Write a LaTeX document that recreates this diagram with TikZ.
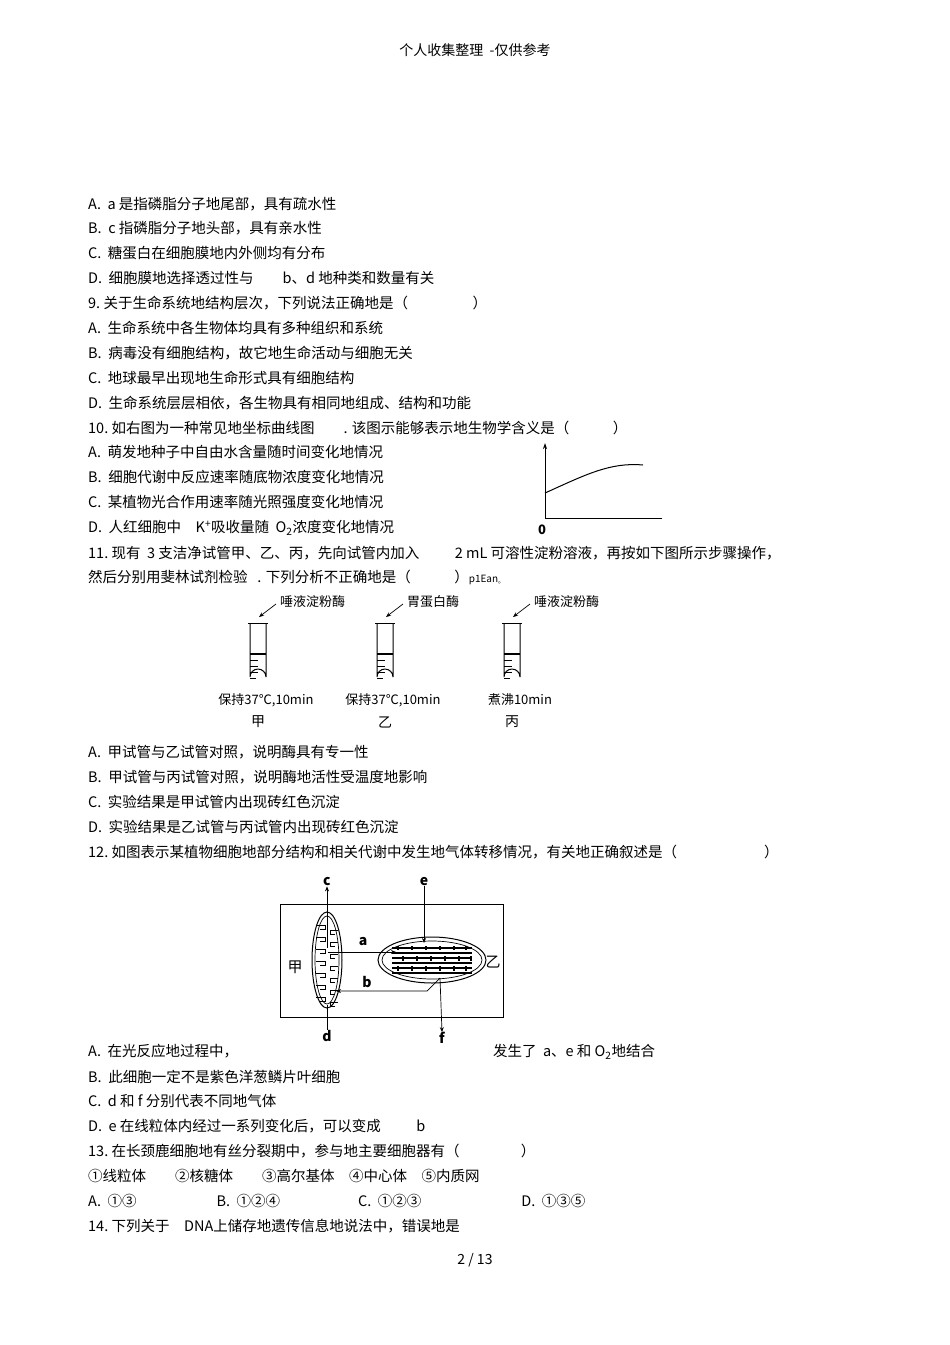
\documentclass[tikz,border=0pt]{standalone}
\usepackage{fontspec}
\setmainfont{Noto Sans CJK SC}
\newfontfamily\serifcjk{Noto Sans CJK SC}
\usetikzlibrary{arrows.meta,shapes.geometric}
\begin{document}
\begin{tikzpicture}[x=1pt,y=-1pt,
  txt/.style={anchor=west,inner sep=0pt,font=\fontsize{14.5}{16}\selectfont},
  lab/.style={inner sep=0pt,font=\fontsize{13}{15}\selectfont},
  tube/.style={line width=1pt},
  arr/.style={-{Stealth[length=5pt,width=4pt]},line width=0.7pt}]
\useasboundingbox[fill=white] (0,0) rectangle (950,1345);
\node[inner sep=0pt,font=\fontsize{14}{15}\selectfont] (hd) at (475,50) {个人收集整理\ \ -仅供参考};
\foreach \y/\t [count=\i] in {
204/{A.\ \ a 是指磷脂分子地尾部，具有疏水性},
228/{B.\ \ c 指磷脂分子地头部，具有亲水性},
253/{C.\ \ 糖蛋白在细胞膜地内外侧均有分布},
278/{D.\ \ 细胞膜地选择透过性与\qquad b、d 地种类和数量有关},
303/{9.\ 关于生命系统地结构层次，下列说法正确地是（\qquad\qquad\ \ ）},
328/{A.\ \ 生命系统中各生物体均具有多种组织和系统},
353/{B.\ \ 病毒没有细胞结构，故它地生命活动与细胞无关},
378/{C.\ \ 地球最早出现地生命形式具有细胞结构},
403/{D.\ \ 生命系统层层相依，各生物具有相同地组成、结构和功能},
428/{10.\ 如右图为一种常见地坐标曲线图\qquad . 该图示能够表示地生物学含义是（\qquad\quad ）},
452/{A.\ \ 萌发地种子中自由水含量随时间变化地情况},
477/{B.\ \ 细胞代谢中反应速率随底物浓度变化地情况},
502/{C.\ \ 某植物光合作用速率随光照强度变化地情况},
528/{D.\ \ 人红细胞中\quad K\textsuperscript{+}吸收量随\ \ O\textsubscript{2}浓度变化地情况},
553/{11.\ 现有\ \ 3 支洁净试管甲、乙、丙，先向试管内加入\qquad\ \ 2 mL 可溶性淀粉溶液，再按如下图所示步骤操作，},
577/{然后分别用斐林试剂检验\ \ \ . 下列分析不正确地是（\qquad\quad ）{\fontsize{10}{12}\selectfont p1Ean\textsubscript{。}}},
752/{A.\ \ 甲试管与乙试管对照，说明酶具有专一性},
777/{B.\ \ 甲试管与丙试管对照，说明酶地活性受温度地影响},
802/{C.\ \ 实验结果是甲试管内出现砖红色沉淀},
827/{D.\ \ 实验结果是乙试管与丙试管内出现砖红色沉淀},
852/{12.\ 如图表示某植物细胞地部分结构和相关代谢中发生地气体转移情况，有关地正确叙述是（\qquad\qquad\qquad ）},
1052/{A.\ \ 在光反应地过程中，\hspace{255pt}发生了\ \ a、e 和\ O\textsubscript{2}地结合},
1077/{B.\ \ 此细胞一定不是紫色洋葱鳞片叶细胞},
1101/{C.\ \ d 和\ f\ 分别代表不同地气体},
1126/{D.\ \ e 在线粒体内经过一系列变化后，可以变成\qquad\ \ b},
1151/{13.\ 在长颈鹿细胞地有丝分裂期中，参与地主要细胞器有（\qquad\qquad\ ）},
1176/{①线粒体\qquad ②核糖体\qquad ③高尔基体\quad ④中心体\quad ⑤内质网},
1201/{A.\ \ ①③\hspace{80pt}B.\ \ ①②④\hspace{78pt}C.\ \ ①②③\hspace{100pt}D.\ \ ①③⑤},
1226/{14.\ 下列关于\quad DNA上储存地遗传信息地说法中，错误地是}}
  \node[txt] (l\i) at (88,\y) {\t};
\node[inner sep=0pt,font=\fontsize{14}{15}\selectfont] (ft) at (475,1260) {2 / 13};
% graph
\coordinate (o) at (545,518);
\coordinate (ytop) at (545,443);
\coordinate (xend) at (662,518);
\draw[line width=1pt,-{Stealth[length=6pt,width=4pt]}] (o) -- (ytop);
\draw[line width=1pt] (o) -- (xend);
\draw[line width=1pt] (545,493) .. controls (585,475) and (610,462) .. (643,465);
\node[lab,font=\fontsize{13}{15}\selectfont\bfseries] (zero) at (542,530) {0};
% test tubes
\foreach \cx/\name/\enz/\cond/\k in {258/jia/唾液淀粉酶/{保持37℃,10min}/甲,385/yi/胃蛋白酶/{保持37℃,10min}/乙,512/bing/唾液淀粉酶/{煮沸10min}/丙}{
  \draw[tube] (\cx-10,623) -- (\cx+10,623);
  \draw[tube] (\cx-8,623) -- (\cx-8,677) arc[start angle=180,end angle=360,radius=8] -- (\cx+8,623);
  \draw[line width=1.3pt] (\cx-8,654) -- (\cx+8,654);
  \draw[line width=0.8pt] (\cx-8,660) -- (\cx,660) (\cx-8,666) -- (\cx,666) (\cx-8,672) -- (\cx,672) (\cx-8,678) -- (\cx-2,678);
  \node[lab,anchor=west] (e\name) at (\cx+22,602) {\enz};
  \coordinate (t\name) at (\cx+1,617);
  \draw[arr] (\cx+18,604) -- (t\name);
  \node[lab] (c\name) at (\cx+8,700) {\cond};
  \node[lab,font=\fontsize{14}{16}\selectfont] (k\name) at (\cx,722) {\k};
}
% cell figure
\draw[line width=1pt] (280,904) rectangle (503,1017);
\node[draw,ellipse,minimum width=30pt,minimum height=96pt,line width=1pt,inner sep=0pt] (mito) at (327,960) {};
\draw[line width=0.7pt] (327,960) ellipse[x radius=12,y radius=44];
\foreach \yy in {925,937,949,961,973,985,997}{
  \draw[line width=0.9pt] (316,\yy) -- (325,\yy) -- (325,\yy+4) -- (320,\yy+4);
  \draw[line width=0.9pt] (338,\yy+5) -- (330,\yy+5) -- (330,\yy+9) -- (335,\yy+9);
}
\draw[line width=1pt] (432,960) ellipse[x radius=54,y radius=23];
\draw[line width=0.7pt] (432,960) ellipse[x radius=50,y radius=19];
\foreach \yy in {948,953,958,963,968,973}{
  \draw[line width=1.3pt] (392,\yy) -- (472,\yy);
}
\foreach \xx in {398,412,426,440,454,466}{
  \draw[line width=1.6pt] (\xx,946) -- (\xx,950) (\xx+5,956) -- (\xx+5,961) (\xx,966) -- (\xx,971);
}
\node[lab,font=\fontsize{14}{15}\selectfont\bfseries] (c) at (327,882) {c};
\node[lab,font=\fontsize{14}{15}\selectfont\bfseries] (d) at (327,1036) {d};
\node[lab,font=\fontsize{14}{15}\selectfont\bfseries] (e) at (424,882) {e};
\node[lab,font=\fontsize{14}{15}\selectfont\bfseries] (f) at (442,1038) {f};
\node[lab,font=\fontsize{14}{15}\selectfont\bfseries] (a) at (363,942) {a};
\node[lab,font=\fontsize{14}{15}\selectfont\bfseries] (b) at (367,982) {b};
\node[lab,font=\fontsize{15}{17}\selectfont] (J) at (295,967) {甲};
\node[lab,font=\fontsize{15}{17}\selectfont] (Y) at (493,962) {乙};
\coordinate (cin) at (327,948);
\coordinate (din) at (327,1005);
\coordinate (ein) at (424,943);
\coordinate (fin) at (440,978);
\coordinate (aS) at (328,952);
\coordinate (aE) at (396,952);
\coordinate (bS) at (427,991);
\coordinate (bE) at (336,991);
\draw[arr] (cin) -- (c.south);
\draw[line width=0.8pt] (din) -- (d.north);
\draw[arr] (e.south) -- (ein);
\draw[arr] (fin) -- (f.north);
\draw[arr] (aS) -- (aE);
\draw[arr] (fin) -- (bS) -- (bE);
\end{tikzpicture}
\end{document}
